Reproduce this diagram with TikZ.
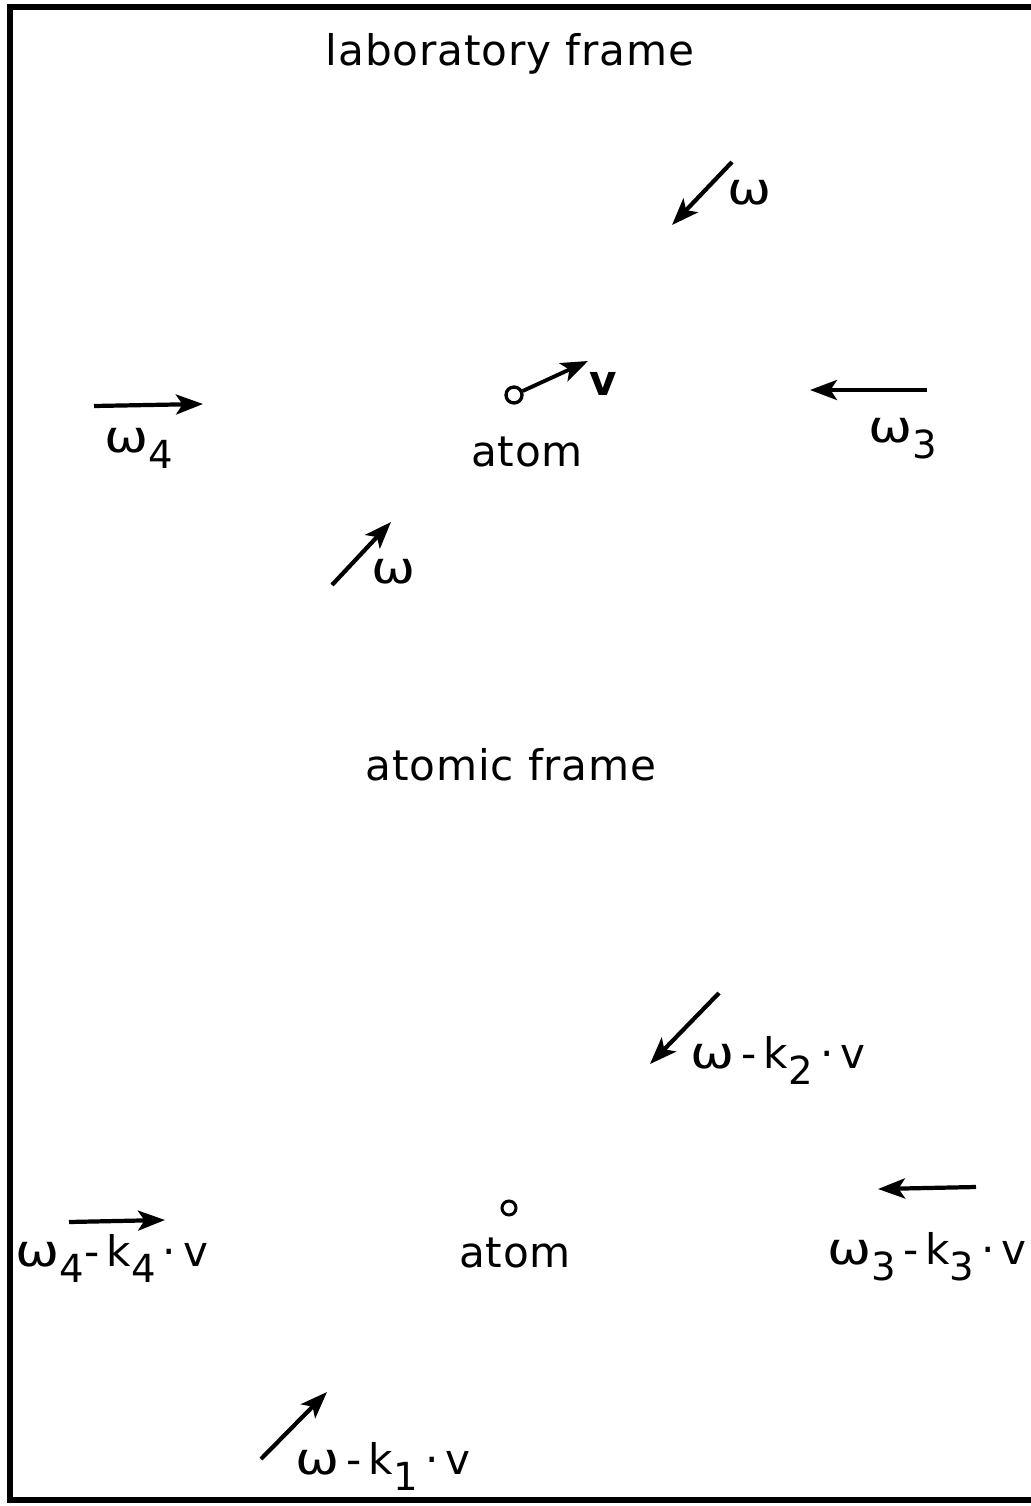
\documentclass[tikz,border=0pt]{standalone}
\usepackage{fontspec}
\setmainfont{DejaVu Sans}[LetterSpace=2]
\usetikzlibrary{arrows.meta, positioning}

\newcommand{\lowsub}[1]{\raisebox{-0.7ex}{\fontsize{22}{24}\selectfont #1}}
\newcommand{\omg}{\scalebox{1.25}[1.05]{ω}}

\begin{document}
\begin{tikzpicture}[x=0.2mm, y=-0.2mm, font=\fontsize{24}{28}\selectfont,
    beam/.style={line width=2.4pt, -{Stealth[length=5.4mm, width=4mm, inset=1.3mm]}},
    lbl/.style={anchor=base, inner sep=0pt},
    atomdot/.style={circle, draw, line width=1.9pt, minimum size=3.2mm, inner sep=0pt}]
    \useasboundingbox (0,0) rectangle (1031,1506);
    \draw[line width=3pt] (1031,7) -- (10,7) -- (10,1500) -- (1031,1500);

    % laboratory frame
    \node[lbl] (labtitle) at (510,66) {laboratory frame};
    \node[atomdot] (labatom) at (514,395) {};
    \coordinate (vtip) at (588,361);
    \draw[beam, line width=2.2pt] (labatom) -- (vtip);
    \node[lbl] (vlbl) at (603,395) {\bfseries v};
    \node[lbl] (labatomlbl) at (527,466) {atom};

    \coordinate (twotail) at (732,162);
    \coordinate (twohead) at (672,225);
    \draw[beam] (twotail) -- (twohead);
    \node[lbl] (twolbl) at (750,205) {\omg};

    \coordinate (fourtail) at (94,406);
    \coordinate (fourhead) at (203,404);
    \draw[beam] (fourtail) -- (fourhead);
    \node[lbl] (fourlbl) at (139,452) {\omg\lowsub{4}};

    \coordinate (threetail) at (927,390);
    \coordinate (threehead) at (810,390);
    \draw[beam] (threetail) -- (threehead);
    \node[lbl] (threelbl) at (903,442) {\omg\lowsub{3}};

    \coordinate (onetail) at (332,585);
    \coordinate (onehead) at (391,522);
    \draw[beam] (onetail) -- (onehead);
    \node[lbl] (onelbl) at (394,583) {\omg};

    % atomic frame
    \node[lbl] (atomtitle) at (511,780) {atomic frame};
    \node[atomdot, line width=1.7pt, minimum size=2.8mm] (restatom) at (509,1208) {};
    \node[lbl] (restatomlbl) at (515,1267) {atom};

    \coordinate (ktwotail) at (719,993);
    \coordinate (ktwohead) at (650,1064);
    \draw[beam] (ktwotail) -- (ktwohead);
    \node[lbl] (ktwolbl) at (778,1068) {\omg\,-\,k\lowsub{2}\,·\,v};

    \coordinate (kfourtail) at (69,1222);
    \coordinate (kfourhead) at (165,1220);
    \draw[beam] (kfourtail) -- (kfourhead);
    \node[lbl] (kfourlbl) at (112,1266) {\omg\lowsub{4}-\,k\lowsub{4}\,·\,v};

    \coordinate (kthreetail) at (976,1187);
    \coordinate (kthreehead) at (878,1189);
    \draw[beam] (kthreetail) -- (kthreehead);
    \node[lbl] (kthreelbl) at (927,1264) {\omg\lowsub{3}\,-\,k\lowsub{3}\,·\,v};

    \coordinate (konetail) at (261,1459);
    \coordinate (konehead) at (327,1392);
    \draw[beam] (konetail) -- (konehead);
    \node[lbl] (konelbl) at (383,1474) {\omg\,-\,k\lowsub{1}\,·\,v};
\end{tikzpicture}
\end{document}
